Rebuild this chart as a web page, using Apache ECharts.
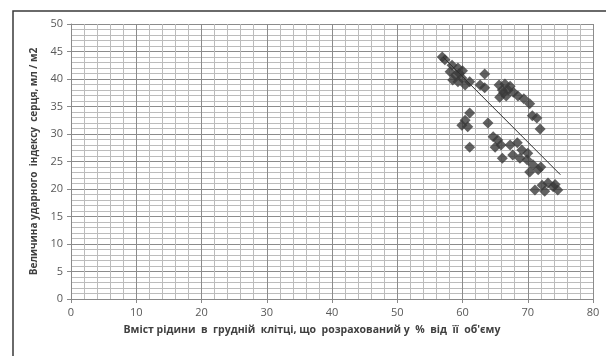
<!DOCTYPE html>
<html>
<head>
<meta charset="utf-8">
<script src="https://cdn.jsdelivr.net/npm/echarts@6/dist/echarts.min.js"></script>
<style>
  html, body {margin: 0; padding: 0; background: #fff;}
  #chart {width: 606px; height: 356px;}
</style>
</head>
<body>
<div id="chart"></div>
<script>
// fluid content in chest (% of volume) vs stroke index
const fluidPct = [
  56.9, 57.3, 58.1, 58.4, 58.5, 58.9, 59.3, 59.3, 59.9, 60.4,
  61.1, 62.7, 63.4, 63.4, 65.6, 66.5, 66.1, 67.0, 65.7, 66.7,
  67.3, 67.8, 68.5, 69.4, 70.3, 70.7, 71.4, 71.9, 61.1, 60.4,
  59.9, 60.8, 63.9, 61.1, 64.7, 65.4, 65.0, 65.9, 66.1, 67.3,
  68.4, 69.1, 67.7, 68.8, 69.9, 70.8, 71.6, 70.3, 71.1, 72.2,
  73.1, 73.9, 74.6, 72.6, 60.0, 59.5, 66.3, 70.0, 72.0, 74.2
];
const strokeIndex = [
  44.0, 43.5, 41.3, 42.5, 39.8, 40.7, 42.0, 39.5, 40.2, 38.9,
  39.5, 38.9, 40.9, 38.4, 38.9, 39.1, 38.0, 38.0, 36.7, 36.9,
  38.7, 37.6, 36.9, 36.4, 35.5, 33.3, 32.9, 30.9, 33.8, 32.5,
  31.6, 31.3, 32.0, 27.6, 29.5, 28.9, 27.6, 28.0, 25.6, 28.0,
  28.4, 27.1, 26.2, 25.6, 25.3, 24.4, 23.5, 23.1, 19.8, 20.7,
  21.1, 20.4, 19.8, 19.6, 41.5, 41.0, 37.5, 26.5, 24.0, 20.8
];
const trendX = [57, 75];
const trendY = [44.0, 22.6];

const points = fluidPct.map((x, i) => [x, strokeIndex[i]]);
const trend = trendX.map((x, i) => [x, trendY[i]]);

const font = '"Open Sans", "Liberation Sans", sans-serif';
const myChart = echarts.init(document.getElementById('chart'));
myChart.setOption({
  animation: false,
  textStyle: {fontFamily: font},
  grid: {left: 71, top: 24, right: 13, bottom: 57},
  graphic: [{
    type: 'rect',
    shape: {x: 13, y: 11, width: 620, height: 380},
    style: {fill: 'none', stroke: '#3a3a3a', lineWidth: 1.5},
    silent: true
  }],
  xAxis: {
    type: 'value', min: 0, max: 80, interval: 10,
    name: 'Вміст рідини  в  грудній  клітці, що  розрахований у  %  від  її  об\'єму',
    nameLocation: 'middle', nameGap: 26,
    nameTextStyle: {fontSize: 10.5, fontWeight: 'bold', color: '#404040', fontFamily: font, padding: [0, 40, 0, 0]},
    axisLine: {lineStyle: {color: '#8a8a8a'}},
    axisTick: {show: true, length: 4, lineStyle: {color: '#8a8a8a'}},
    axisLabel: {fontSize: 11, color: '#595959', margin: 8},
    splitLine: {lineStyle: {color: '#8c8c8c', width: 1}},
    minorTick: {show: false, splitNumber: 5},
    minorSplitLine: {show: true, lineStyle: {color: '#bcbcbc', width: 1}}
  },
  yAxis: {
    type: 'value', min: 0, max: 50, interval: 5,
    name: 'Величина ударного  індексу  серця, мл / м2',
    nameLocation: 'middle', nameGap: 32,
    nameTextStyle: {fontSize: 10, fontWeight: 'bold', color: '#404040', fontFamily: font},
    axisLine: {show: true, lineStyle: {color: '#8a8a8a'}},
    axisTick: {show: true, length: 4, lineStyle: {color: '#8a8a8a'}},
    axisLabel: {fontSize: 11, color: '#595959', margin: 8},
    splitLine: {lineStyle: {color: '#8c8c8c', width: 1}},
    minorTick: {show: false, splitNumber: 5},
    minorSplitLine: {show: true, lineStyle: {color: '#bcbcbc', width: 1}}
  },
  series: [
    {
      type: 'scatter',
      symbol: 'diamond',
      symbolSize: 11,
      itemStyle: {color: '#3a3a3a'},
      data: points
    },
    {
      type: 'line',
      showSymbol: false,
      lineStyle: {color: '#2e2e2e', width: 1},
      data: trend,
      z: 3
    }
  ]
});
</script>
</body>
</html>
